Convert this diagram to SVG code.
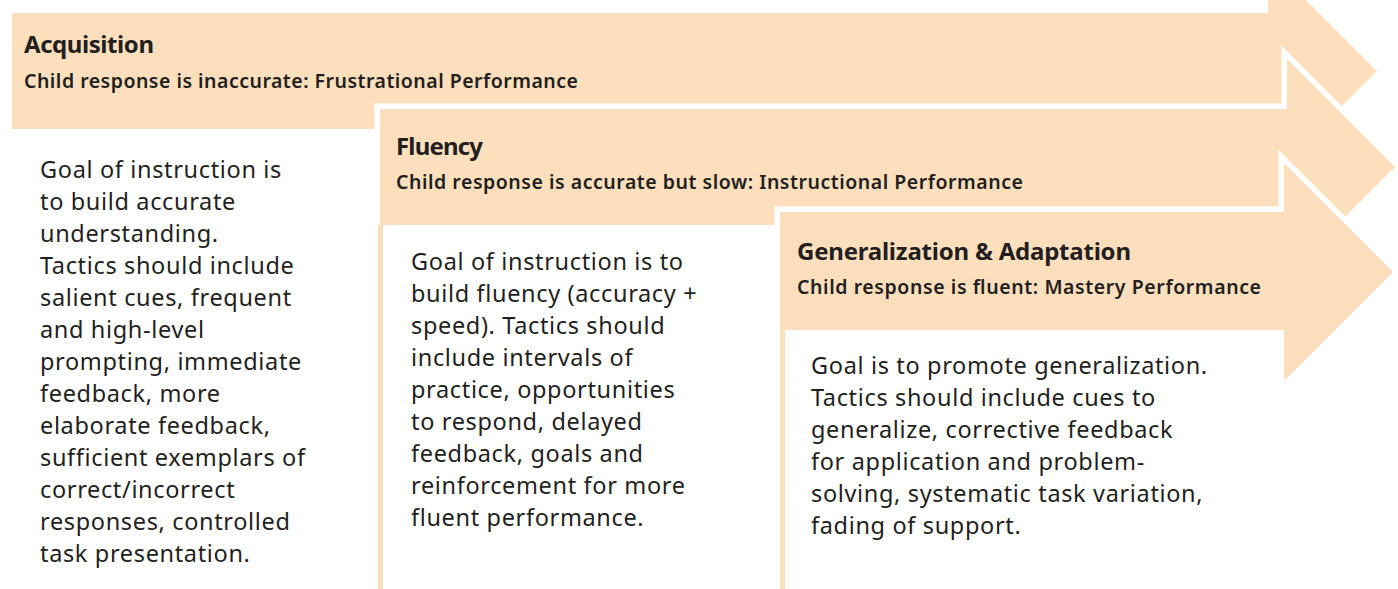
<svg xmlns="http://www.w3.org/2000/svg" width="1398" height="589" viewBox="0 0 1398 589">
  <style>
    .arrow { fill: #fddfbd; }
    .arrow-top { fill: #fddfbd; stroke: #ffffff; stroke-width: 11; stroke-linejoin: miter; paint-order: stroke; }
    .rule { fill: #fddfbd; }
    .title { font-family: "Noto Sans", "Open Sans", sans-serif; font-weight: 700; font-size: 24px; fill: #231f20; }
    .sub { font-family: "Noto Sans", "Open Sans", sans-serif; font-weight: 600; font-size: 19.5px; fill: #231f20; }
    .body { font-family: "Noto Sans", "Open Sans", sans-serif; font-weight: 400; font-size: 23.5px; letter-spacing: 0.65px; fill: #231f20; }
  </style>
  <rect width="1398" height="589" fill="#ffffff"/>

  <!-- Stage 1: Acquisition -->
  <g id="acquisition">
    <polygon class="arrow" points="12,13 1268,13 1268,-38 1377,71 1268,180 1268,129 12,129"/>
    <text class="title" x="24" y="53" textLength="130">Acquisition</text>
    <text class="sub" x="24" y="88" textLength="554">Child response is inaccurate: Frustrational Performance</text>
    <text class="body" x="40">
      <tspan x="40" y="178">Goal of instruction is</tspan>
      <tspan x="40" y="210">to build accurate</tspan>
      <tspan x="40" y="242">understanding.</tspan>
      <tspan x="40" y="274">Tactics should include</tspan>
      <tspan x="40" y="306">salient cues, frequent</tspan>
      <tspan x="40" y="338">and high-level</tspan>
      <tspan x="40" y="370">prompting, immediate</tspan>
      <tspan x="40" y="402">feedback, more</tspan>
      <tspan x="40" y="434">elaborate feedback,</tspan>
      <tspan x="40" y="466">sufficient exemplars of</tspan>
      <tspan x="40" y="498">correct/incorrect</tspan>
      <tspan x="40" y="530">responses, controlled</tspan>
      <tspan x="40" y="562">task presentation.</tspan>
    </text>
  </g>

  <!-- Stage 2: Fluency -->
  <g id="fluency">
    <polygon class="arrow-top" points="380,109 1287,109 1287,59 1395,167 1287,275 1287,225 380,225"/>
    <rect class="rule" x="378" y="225" width="5" height="364"/>
    <text class="title" x="396" y="155" textLength="87">Fluency</text>
    <text class="sub" x="396" y="189" textLength="627">Child response is accurate but slow: Instructional Performance</text>
    <text class="body">
      <tspan x="411" y="270">Goal of instruction is to</tspan>
      <tspan x="411" y="302">build fluency (accuracy +</tspan>
      <tspan x="411" y="334">speed). Tactics should</tspan>
      <tspan x="411" y="366">include intervals of</tspan>
      <tspan x="411" y="398">practice, opportunities</tspan>
      <tspan x="411" y="430">to respond, delayed</tspan>
      <tspan x="411" y="462">feedback, goals and</tspan>
      <tspan x="411" y="494">reinforcement for more</tspan>
      <tspan x="411" y="526">fluent performance.</tspan>
    </text>
  </g>

  <!-- Stage 3: Generalization & Adaptation -->
  <g id="generalization">
    <polygon class="arrow-top" points="780,212 1284,212 1284,163 1393,272 1284,381 1284,330 780,330"/>
    <rect class="rule" x="780" y="330" width="5" height="259"/>
    <text class="title" x="797" y="260" textLength="334">Generalization &amp; Adaptation</text>
    <text class="sub" x="797" y="294" textLength="464">Child response is fluent: Mastery Performance</text>
    <text class="body">
      <tspan x="811" y="374">Goal is to promote generalization.</tspan>
      <tspan x="811" y="406">Tactics should include cues to</tspan>
      <tspan x="811" y="438">generalize, corrective feedback</tspan>
      <tspan x="811" y="470">for application and problem-</tspan>
      <tspan x="811" y="502">solving, systematic task variation,</tspan>
      <tspan x="811" y="534">fading of support.</tspan>
    </text>
  </g>

  <!-- no connectors between stages: the arrows carry the sequence -->
  <g id="connectors"/>
</svg>
